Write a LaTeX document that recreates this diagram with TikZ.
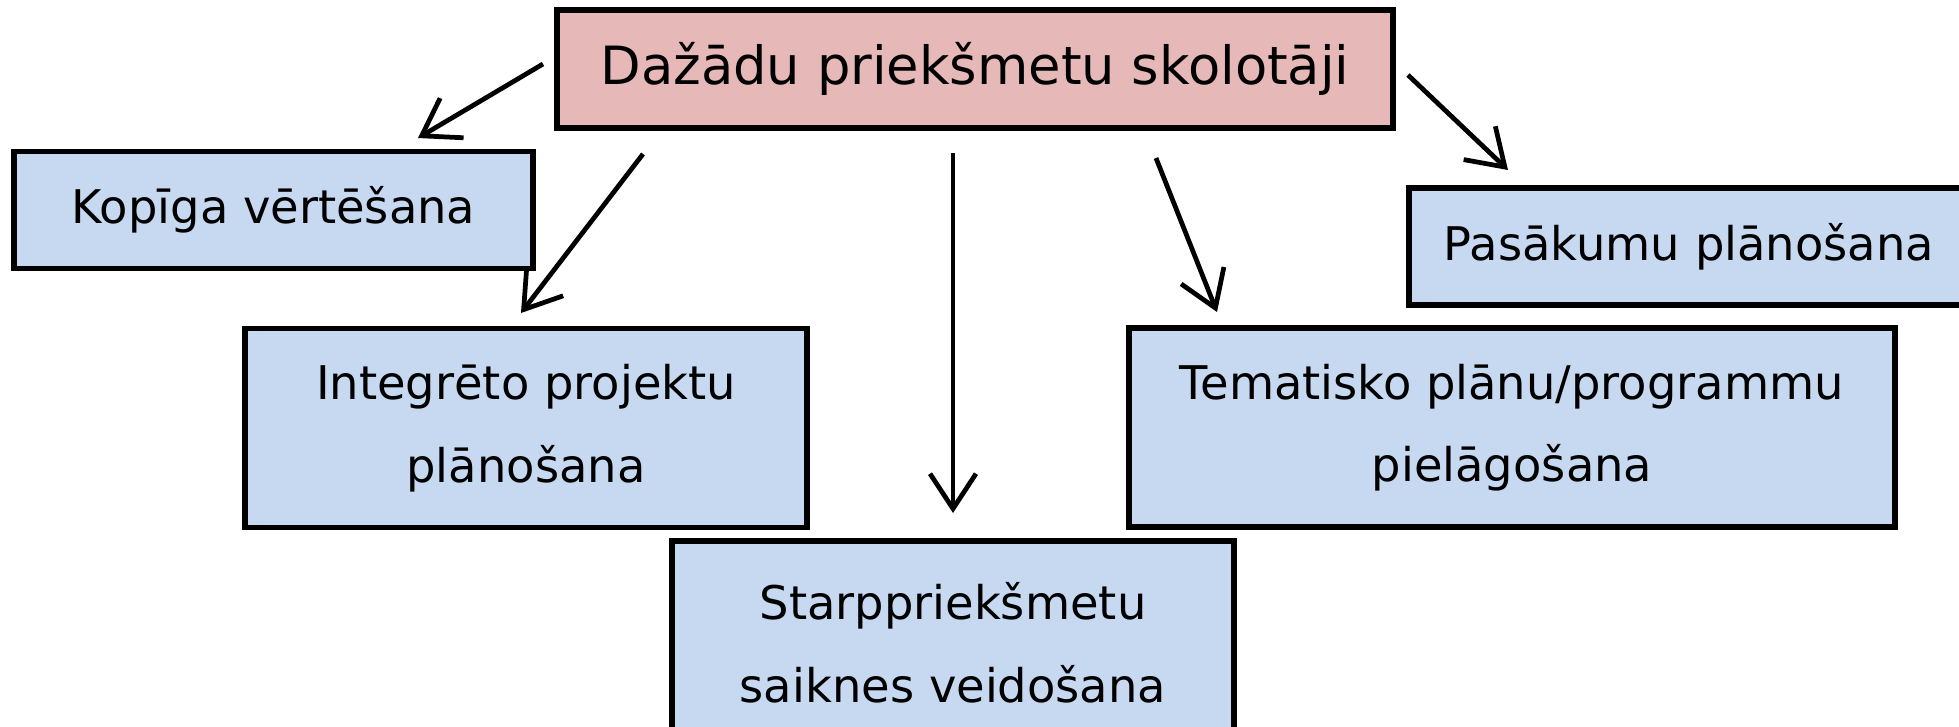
\documentclass[tikz,border=0pt]{standalone}
\usepackage{fontspec}
\setmainfont{DejaVu Sans}
\usetikzlibrary{calc}
\usetikzlibrary{arrows.meta}
\definecolor{boxpink}{HTML}{E6B8B7}
\definecolor{boxblue}{HTML}{C6D9F1}

\begin{document}
\begin{tikzpicture}[
    box/.style={draw=black,line width=1.6pt,fill=boxblue,inner sep=0pt,align=center,
        minimum height=1.17cm,font=\fontsize{13.2}{23.5}\selectfont},
    tallbox/.style={box,minimum height=1.99cm},
    arr/.style={line width=1.35pt,-{Straight Barb[length=3.5mm,width=4.6mm]}}]
    \useasboundingbox (0,0) rectangle (19.59,7.26);
    % boxes
    \node[box,fill=boxpink,minimum width=8.36cm,minimum height=1.18cm,
        font=\fontsize{15}{22}\selectfont] (teachers) at (9.75,6.57) {Dažādu priekšmetu skolotāji};
    \node[box,minimum width=5.19cm] (assess) at (2.735,5.16) {Kopīga vērtēšana};
    \node[tallbox,minimum width=5.62cm] (project) at (5.26,2.98) {Integrēto projektu\\plānošana};
    \node[tallbox,minimum width=5.62cm,minimum height=2.04cm] (links) at (9.53,0.83) {Starppriekšmetu\\saiknes veidošana};
    \node[tallbox,minimum width=7.66cm] (themes) at (15.12,2.985) {Tematisko plānu/programmu\\pielāgošana};
    \node[box,minimum width=5.6cm] (events) at (16.89,4.795) {Pasākumu plānošana};
    % arrow ends
    \coordinate (a1) at (5.43,6.62);  \coordinate (b1) at (4.18,5.88);
    \coordinate (a2) at (6.43,5.72);  \coordinate (b2) at (5.21,4.13);
    \coordinate (a3) at (9.53,5.73);  \coordinate (b3) at (9.53,2.13);
    \coordinate (a4) at (11.56,5.68); \coordinate (b4) at (12.17,4.14);
    \coordinate (a5) at (14.08,6.51); \coordinate (b5) at (15.08,5.56);
    \foreach \i in {1,...,5}
        \draw[arr] (a\i) -- (b\i);
\end{tikzpicture}
\end{document}
